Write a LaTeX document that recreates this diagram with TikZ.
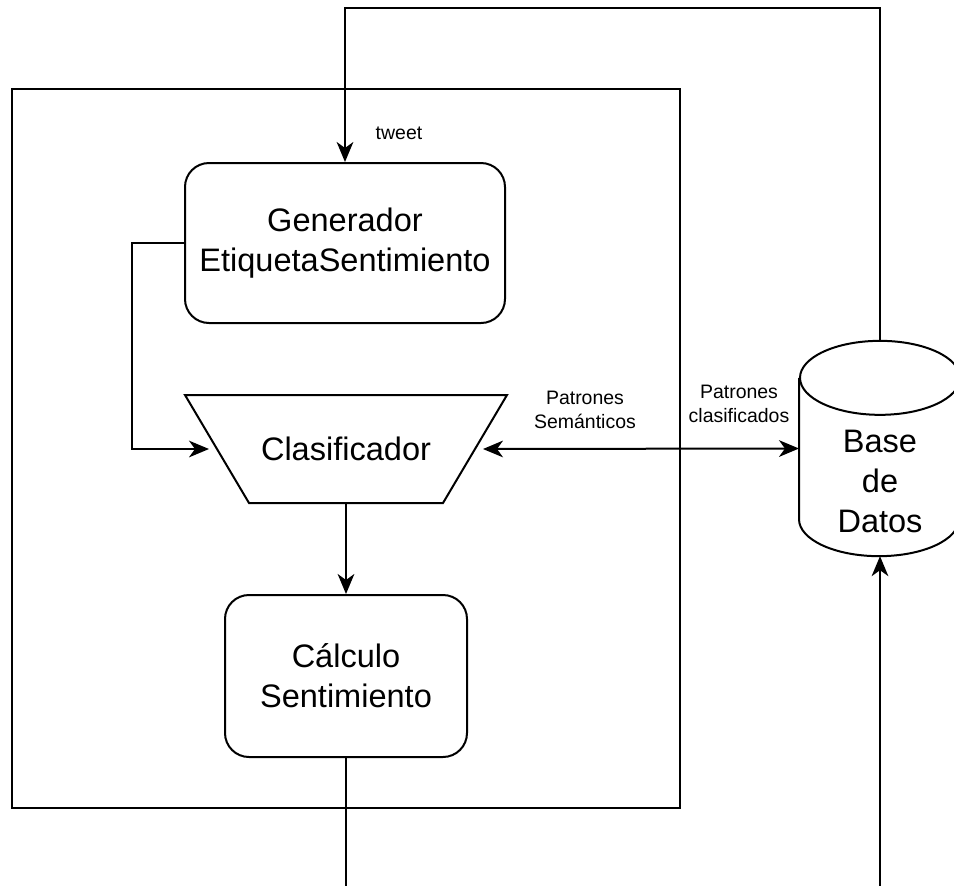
\documentclass[tikz,border=0pt]{standalone}
\usepackage{fontspec}
\setmainfont{Liberation Sans}
\usetikzlibrary{arrows.meta,calc}

\tikzset{
  bigtext/.style={font=\fontsize{24.4}{30}\selectfont, align=center},
  smalltext/.style={font=\fontsize{14.6}{18.5}\selectfont, align=center, inner sep=0pt},
  procbox/.style={draw, rounded corners=18pt, bigtext, inner sep=0pt},
  flow/.style={line width=1.5pt},
  arr/.style={flow, -{Stealth[length=15pt,width=12.5pt,inset=4.5pt]}},
  arrboth/.style={flow, {Stealth[length=15pt,width=12.5pt,inset=4.5pt]}-{Stealth[length=15pt,width=12.5pt,inset=4.5pt]}}
}

\begin{document}
\begin{tikzpicture}[x=0.75pt,y=-0.75pt,line width=1.5pt]
\useasboundingbox (0,0) rectangle (954,886);

% system boundary
\node[draw, line width=1.5pt, minimum width=501pt, minimum height=539.25pt, inner sep=0pt] (frame) at (346,448.5) {};

% processing stages
\node[procbox, minimum width=240pt, minimum height=120pt] (gen) at (345,243) {Generador\\EtiquetaSentimiento};

% classifier: inverted trapezoid; the node spans the midpoints of the slanted sides
\node[minimum width=192pt, minimum height=79.5pt, inner sep=0pt, bigtext] (clas) at (346,449) {Clasificador};
\draw[flow, line join=miter]
  ($(clas.north west)+(-32,0)$) -- ($(clas.north east)+(32,0)$) --
  ($(clas.south east)+(-32,0)$) -- ($(clas.south west)+(32,0)$) -- cycle;

\node[procbox, minimum width=181.5pt, minimum height=121.5pt] (calc) at (346,676) {Cálculo\\Sentimiento};

% database cylinder
\node[minimum width=120pt, minimum height=160pt, inner sep=0pt] (db) at (880,448.5) {};
\draw[flow] ($(db.north)+(0,37)$) ellipse [x radius=60pt, y radius=27.75pt];
\draw[flow] ($(db.north west)+(0,37)$) -- ($(db.south west)+(0,-37)$)
  arc [start angle=180, end angle=360, x radius=60pt, y radius=27.75pt]
  -- ($(db.north east)+(0,37)$);
\node[bigtext, inner sep=0pt] (dbtxt) at (880,481) {Base\\de\\Datos};

% edge labels
\node[smalltext] (tw) at (399,133) {tweet};
\node[smalltext] (ps) at (585,410) {Patrones\\Semánticos};
\node[smalltext] (pc) at (739,404) {Patrones\\clasificados};

% connectors
\coordinate (toprun) at (0,8);
\coordinate (calcout) at (346,886);
\coordinate (dbin) at (880,886);

\draw[arr] (db.north) -- (db.north |- toprun) -| (gen.north);
\draw[arr] (gen.west) -- ++(-52,0) |- ($(clas.west)+(-8,0)$);
\draw[arr] (clas.south) -- (calc.north);
\draw[arrboth] ($(clas.east)+(8,0)$) -- (db.west);
\draw[flow] (calc.south) -- (calcout);
\draw[arr] (dbin) -- (db.south);
\end{tikzpicture}
\end{document}
